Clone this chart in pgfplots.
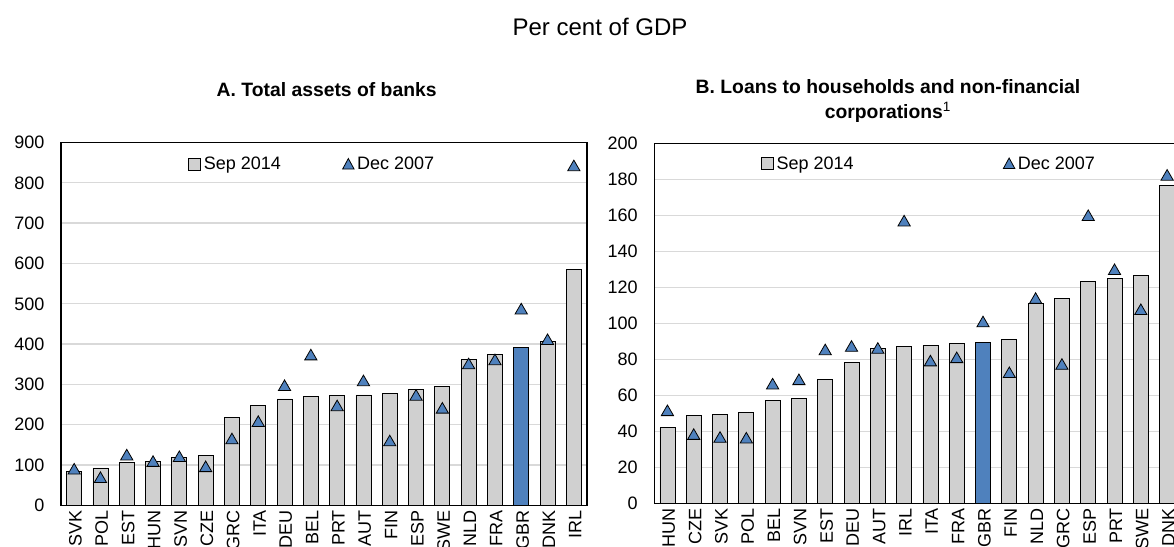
\documentclass[border=0pt]{standalone}
\usepackage{fontspec}
\setmainfont{Liberation Sans}
\usepackage{pgfplots}
\pgfplotsset{compat=1.18}
\definecolor{barg}{HTML}{D0D0D0}
\definecolor{oblue}{HTML}{4F81BD}
\definecolor{gridc}{HTML}{D9D9D9}

\pgfplotstableread{
x val
0 84
1 93
2 106
3 109
4 118
5 124
6 218
7 247
8 264
9 270
10 273
11 274
12 278
13 288
14 296
15 361
16 375
17 391
18 407
19 585
}\assetsSep
\pgfplotstableread{
x val
0 91
1 70
2 126
3 110
4 122
5 97
6 166
7 209
8 298
9 374
10 248
11 310
12 161
13 274
14 242
15 352
16 362
17 488
18 412
19 843
}\assetsDec
\pgfplotstableread{
x val
0 42
1 48.9
2 49.3
3 50.6
4 57
5 58.1
6 68.7
7 78.5
8 86.1
9 87
10 87.8
11 88.9
12 89.3
13 91.3
14 111
15 114
16 123
17 124.8
18 126.5
19 176.7
}\loansSep
\pgfplotstableread{
x val
0 51.7
1 38.5
2 36.9
3 36.5
4 66.5
5 68.9
6 85.5
7 87.4
8 86.3
9 157
10 79.3
11 81.1
12 101
13 72.8
14 114
15 77.4
16 160
17 130
18 107.8
19 182.4
}\loansDec

\pgfplotsset{
  panel/.style={
    scale only axis,
    width=394.5pt,
    ymin=0, xmin=-0.5, xmax=19.5,
    xtick={0,...,19},
    major tick length=0pt,
    axis line style={line width=1pt},
    ymajorgrids,
    grid style={gridc, line width=1pt},
    tick label style={font=\fontsize{13.5}{16}\selectfont},
    /pgf/number format/assume math mode=true,
    yticklabel style={xshift=-9pt},
    xticklabel style={rotate=90, anchor=east, yshift=-1pt},
    legend columns=2,
    legend cell align=left,
    legend style={draw=none, fill=none, font=\fontsize{13.5}{16}\selectfont, anchor=west},
  },
  sepbar/.style={ybar, bar width=11.25pt, bar shift=0pt, fill=barg, draw=black, line width=0.6pt,
    legend image code/.code={\draw[fill=barg, draw=black, line width=0.6pt] (0pt,-4.5pt) rectangle (9pt,4.5pt);}},
  gbrbar/.style={ybar, bar width=11.25pt, bar shift=0pt, fill=oblue, draw=black, line width=0.6pt, forget plot},
  decmark/.style={only marks, mark=triangle*, mark size=5.3pt,
    mark options={fill=oblue, draw=black, line width=0.6pt, yshift=-1.3pt},
    legend image code/.code={\draw[fill=oblue, draw=black, line width=0.6pt] (0pt,-3.6pt) -- (8.6pt,-3.6pt) -- (4.3pt,4.3pt) -- cycle;}},
}

\begin{document}
\begin{tikzpicture}
\useasboundingbox (0,0) rectangle (880.5pt,409.5pt);
\clip (0,0) rectangle (880.5pt,409.5pt);

\node[anchor=base, font=\fontsize{18}{21}\selectfont] at (450pt,382.5pt) {Per cent of GDP};
\node[anchor=base, font=\fontsize{14.5}{17}\selectfont\bfseries] at (245pt,337pt) {A. Total assets of banks};
\node[anchor=base, font=\fontsize{14.5}{17}\selectfont\bfseries] at (666pt,339pt) {B. Loans to households and non-financial};
\node[anchor=base, font=\fontsize{14.5}{17}\selectfont\bfseries] at (666pt,320.5pt) {corporations\textsuperscript{\mdseries 1}};

% Panel A
\begin{axis}[panel,
  at={(45.75pt,30.4pt)}, anchor=south west,
  height=272.25pt,
  ymax=900, ytick={0,100,...,900},
  xticklabels={SVK,POL,EST,HUN,SVN,CZE,GRC,ITA,DEU,BEL,PRT,AUT,FIN,ESP,SWE,NLD,FRA,GBR,DNK,IRL},
  legend style={at={(0.234,0.94)}},
  /tikz/every even column/.append style={column sep=44pt},
]
\addplot[sepbar] table[x=x,y=val] {\assetsSep};
\addplot[gbrbar] coordinates {(17,391)};
\addplot[decmark] table[x=x,y=val] {\assetsDec};
\legend{Sep 2014, Dec 2007}
\end{axis}

% Panel B
\begin{axis}[panel,
  at={(490.7pt,31.9pt)}, anchor=south west,
  height=270.2pt,
  ymax=200, ytick={0,20,...,200},
  xticklabels={HUN,CZE,SVK,POL,BEL,SVN,EST,DEU,AUT,IRL,ITA,FRA,GBR,FIN,NLD,GRC,ESP,PRT,SWE,DNK},
  legend style={at={(0.195,0.943)}},
  /tikz/every even column/.append style={column sep=110pt},
]
\addplot[sepbar] table[x=x,y=val] {\loansSep};
\addplot[gbrbar] coordinates {(12,89.3)};
\addplot[decmark] table[x=x,y=val] {\loansDec};
\legend{Sep 2014, Dec 2007}
\end{axis}
\end{tikzpicture}
\end{document}
